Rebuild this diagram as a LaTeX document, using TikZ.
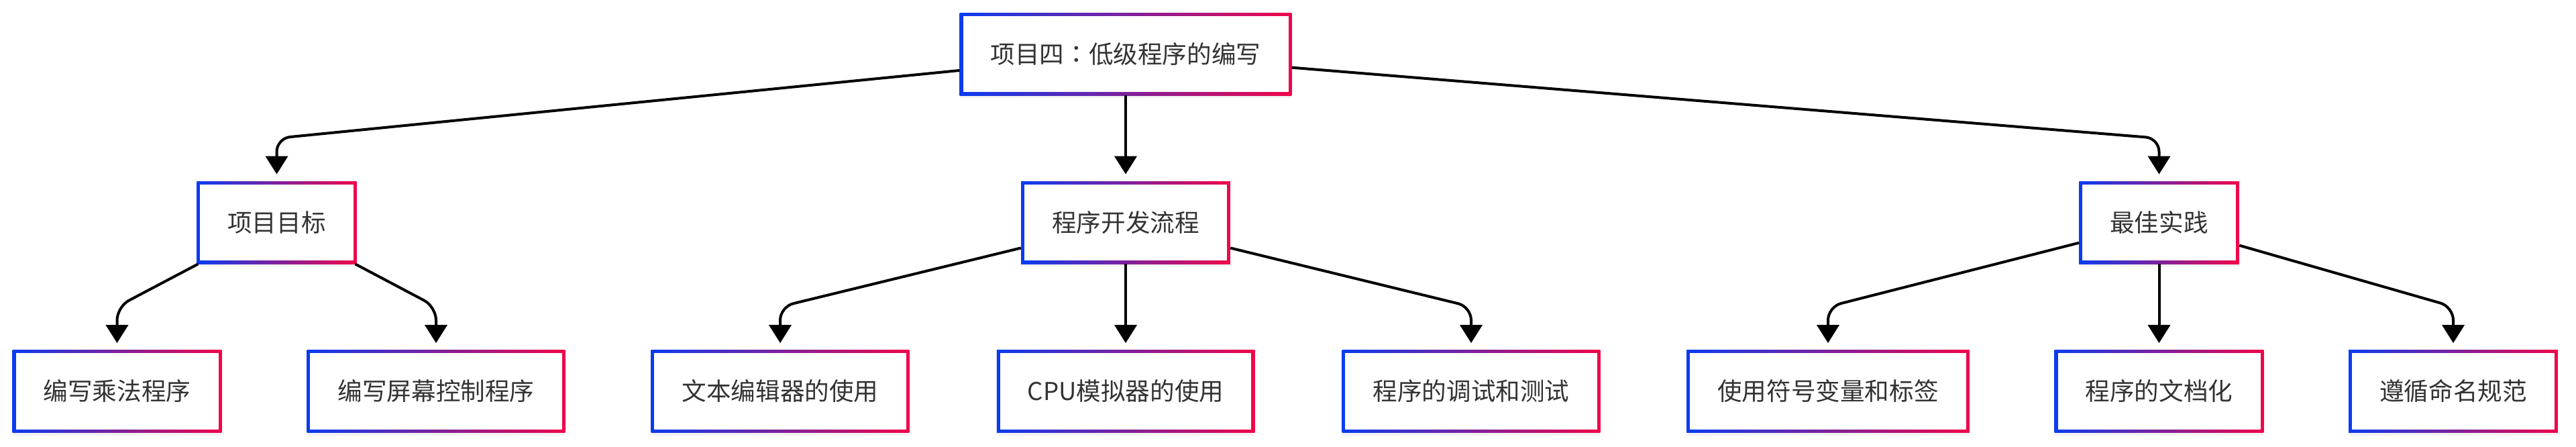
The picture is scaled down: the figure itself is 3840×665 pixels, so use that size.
\documentclass[tikz,border=0pt]{standalone}
\usepackage{fontspec}
\newfontfamily\cjk{Noto Sans CJK SC}
\newfontfamily\cjktc{Noto Sans CJK TC}
\usetikzlibrary{arrows.meta,shadows}
\definecolor{edgeblue}{HTML}{0A3CF0}
\definecolor{edgered}{HTML}{F0064A}
\definecolor{ink}{HTML}{333333}
\tikzset{
  box/.style={rectangle, left color=edgeblue, right color=edgered,
    minimum height=61.5pt, inner xsep=23pt, inner ysep=0pt, text=ink,
    font=\cjk\fontsize{18.3pt}{22pt}\selectfont,
    drop shadow={shadow xshift=0pt, shadow yshift=-2pt, opacity=0.1},
    path picture={\fill[white] ([shift={(2.4pt,2.4pt)}]path picture bounding box.south west)
      rectangle ([shift={(-2.4pt,-2.4pt)}]path picture bounding box.north east);}},
  link/.style={line width=2pt, -{Triangle[width=16.5pt,length=13.5pt]},
    shorten >=5pt, rounded corners=10pt}
}
\begin{document}
\begin{tikzpicture}[x=0.5pt, y=-0.5pt]
  \useasboundingbox (0, 0) rectangle (3840, 665);

  \coordinate (a) at (0, 206);
  \coordinate (b) at (0, 457);

  \node [box] (0) at (1678, 80.5) {项目四{\cjktc ：}低级程序的编写};

  \node [box] (1) at (412.5, 331.5) {项目目标};
  \node [box] (2) at (1678, 331.5) {程序开发流程};
  \node [box] (3) at (3218.5, 331.5) {最佳实践};
  \draw [link] (0) -- (1 |- a) -- (1);
  \draw [link] (0) -- (2);
  \draw [link] (0) -- (3 |- a) -- (3);

  \node [box] (4) at (174.5, 583) {编写乘法程序};
  \node [box] (5) at (650, 583) {编写屏幕控制程序};
  \draw [link] (1) -- (4 |- b) -- (4);
  \draw [link] (1) -- (5 |- b) -- (5);

  \node [box] (6) at (1163, 583) {文本编辑器的使用};
  \node [box] (7) at (1678, 583) {CPU模拟器的使用};
  \node [box] (8) at (2193, 583) {程序的调试和测试};
  \draw [link] (2) -- (6 |- b) -- (6);
  \draw [link] (2) -- (7);
  \draw [link] (2) -- (8 |- b) -- (8);

  \node [box] (9) at (2725, 583) {使用符号变量和标签};
  \node [box] (10) at (3218.5, 583) {程序的文档化};
  \node [box] (11) at (3657, 583) {遵循命名规范};
  \draw [link] (3) -- (9 |- b) -- (9);
  \draw [link] (3) -- (10);
  \draw [link] (3) -- (11 |- b) -- (11);
\end{tikzpicture}
\end{document}
